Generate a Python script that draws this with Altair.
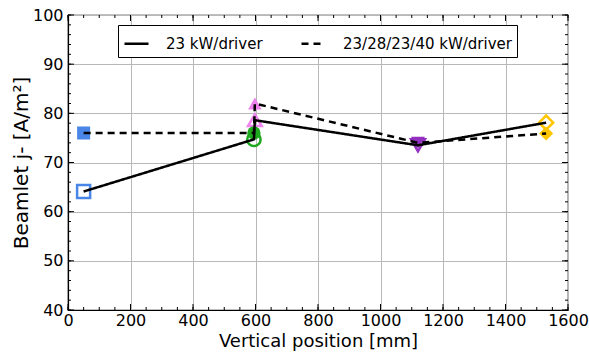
import altair as alt
import pandas as pd

# ---- data ----
series_names = ["23 kW/driver", "23/28/23/40 kW/driver"]
groups = ["blue", "green", "pink", "purple", "gold"]
x_pos = [50, 595, 598, 1120, 1530]
y_solid = [64.1, 74.7, 78.6, 73.5, 78.1]
y_dashed = [76.0, 76.0, 82.0, 74.0, 75.9]

group_colors = ["#4A86E8", "#1DA81D", "#EE82EE", "#9430C0", "#FFC600"]
group_shapes = ["square", "circle", "triangle-up", "triangle-down", "diamond"]
group_sizes = [170, 200, 290, 290, 220]

x_major = list(range(0, 1601, 200))
x_minor = list(range(0, 1601, 50))
y_major = list(range(40, 101, 10))
y_minor = list(range(40, 101, 2))

W, H = 500, 295
FONT = "DejaVu Sans"

rows = []
for i in range(5):
    rows.append({"x": x_pos[i], "y": y_solid[i], "series": series_names[0], "group": groups[i], "order": i})
for i in range(5):
    rows.append({"x": x_pos[i], "y": y_dashed[i], "series": series_names[1], "group": groups[i], "order": i})
df = pd.DataFrame(rows)

x_scale = alt.Scale(domain=[0, 1600], nice=False, zero=False)
y_scale = alt.Scale(domain=[40, 100], nice=False, zero=False)
x_axis = alt.Axis(values=x_major, title="Vertical position [mm]", grid=True, ticks=False,
                  labelPadding=2, titlePadding=4, format="d", labelFlush=False,
                  titleFontSize=18)
y_axis = alt.Axis(values=y_major, title="Beamlet j- [A/m²]", grid=True, ticks=False,
                  labelPadding=5, titlePadding=1, format="d", labelFlush=False,
                  titleFontSize=20)

X = alt.X("x:Q", scale=x_scale, axis=x_axis)
Y = alt.Y("y:Q", scale=y_scale, axis=y_axis)

color = alt.Color("group:N", scale=alt.Scale(domain=groups, range=group_colors), legend=None)
shape = alt.Shape("group:N", scale=alt.Scale(domain=groups, range=group_shapes), legend=None)
size = alt.Size("group:N", scale=alt.Scale(domain=groups, range=group_sizes), legend=None)

hollow = alt.Chart(df).transform_filter(alt.datum.series == series_names[0]).mark_point(
    filled=False, strokeWidth=2.5, opacity=1
).encode(x=X, y=Y, color=color, shape=shape, size=size)

filled = alt.Chart(df).transform_filter(alt.datum.series == series_names[1]).mark_point(
    filled=True, opacity=1
).encode(x=X, y=Y, color=color, shape=shape, size=size)

lines = alt.Chart(df).mark_line(color="black", strokeWidth=2.5).encode(
    x=X, y=Y, order="order:Q",
    strokeDash=alt.StrokeDash(
        "series:N",
        scale=alt.Scale(domain=series_names, range=[[1, 0], [7, 5]]),
        legend=alt.Legend(
            title=None, orient="none", legendX=50, legendY=10, direction="horizontal",
            columns=2, fillColor="white", strokeColor="black", padding=5,
            cornerRadius=0, symbolType="stroke", symbolSize=576, symbolStrokeWidth=2.5,
            symbolStrokeColor="black", labelFont=FONT, labelFontSize=15, labelColor="black",
            labelOffset=16, columnPadding=33, labelLimit=400,
        ),
    ),
)

# inward tick marks on all four sides
xmaj = pd.DataFrame({"x": x_major})
xmin = pd.DataFrame({"x": x_minor})
ymaj = pd.DataFrame({"y": y_major})
ymin = pd.DataFrame({"y": y_minor})
tk = dict(color="black", strokeWidth=1)
ticks = [
    alt.Chart(xmaj).mark_rule(**tk).encode(x=X, y=alt.value(H), y2=alt.value(H - 6)),
    alt.Chart(xmaj).mark_rule(**tk).encode(x=X, y=alt.value(0), y2=alt.value(6)),
    alt.Chart(xmin).mark_rule(**tk).encode(x=X, y=alt.value(H), y2=alt.value(H - 3)),
    alt.Chart(xmin).mark_rule(**tk).encode(x=X, y=alt.value(0), y2=alt.value(3)),
    alt.Chart(ymaj).mark_rule(**tk).encode(y=Y, x=alt.value(0), x2=alt.value(6)),
    alt.Chart(ymaj).mark_rule(**tk).encode(y=Y, x=alt.value(W), x2=alt.value(W - 6)),
    alt.Chart(ymin).mark_rule(**tk).encode(y=Y, x=alt.value(0), x2=alt.value(3)),
    alt.Chart(ymin).mark_rule(**tk).encode(y=Y, x=alt.value(W), x2=alt.value(W - 3)),
]

chart = alt.layer(hollow, filled, lines, *ticks).properties(
    width=W, height=H,
    autosize=alt.AutoSizeParams(type="none"),
    padding={"left": 68, "top": 15, "right": 21, "bottom": 42},
    background="white",
).configure_view(
    stroke="black", strokeWidth=1.2
).configure_axis(
    labelFont=FONT, labelFontSize=16, labelColor="black",
    titleFont=FONT, titleFontWeight="normal", titleColor="black",
    gridColor="#b8b8b8", gridWidth=1, domainColor="black", domainWidth=1.2,
)

chart.save("out.html", embed_options={"renderer": "svg", "actions": False})
